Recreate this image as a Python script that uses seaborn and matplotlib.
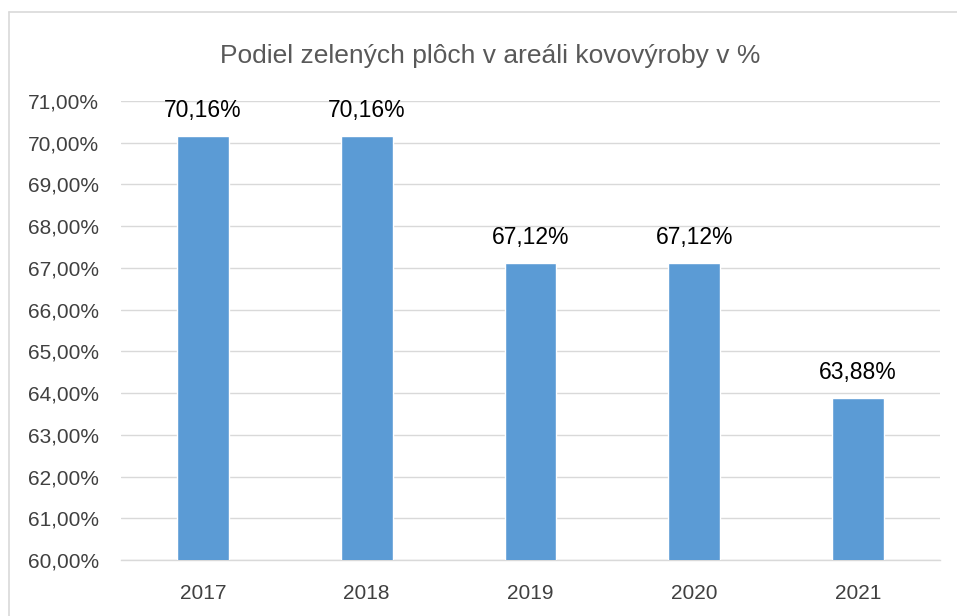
import matplotlib
matplotlib.use("Agg")
import matplotlib.pyplot as plt
import seaborn as sns
import pandas as pd
from matplotlib.ticker import FuncFormatter

years = ["2017", "2018", "2019", "2020", "2021"]
values = [70.16, 70.16, 67.12, 67.12, 63.88]
title = "Podiel zelených plôch v areáli kovovýroby v %"

sns.set_theme(style="white")
plt.rcParams['font.family'] = ['Liberation Sans', 'DejaVu Sans']

df = pd.DataFrame({"year": years, "value": values})

fig = plt.figure(figsize=(9.57, 6.16), dpi=100)
ax = fig.add_axes([121/957, 1 - 560/616, (940-121)/957, (560-101)/616])

sns.barplot(data=df, x="year", y="value", color="#5B9BD5", saturation=1,
            width=0.317, ax=ax, zorder=3)

ax.set_ylim(60, 71)
ax.set_yticks(range(60, 72))
ax.yaxis.set_major_formatter(FuncFormatter(lambda v, p: f"{v:.2f}%".replace(".", ",")))
ax.grid(axis="y", color="#D9D9D9", linewidth=1.0, zorder=0)
ax.set_axisbelow(True)
for s in ["top", "right", "left"]:
    ax.spines[s].set_visible(False)
ax.spines["bottom"].set_color("#D9D9D9")
ax.spines["bottom"].set_linewidth(1.0)
ax.tick_params(axis="y", length=0, pad=16, labelsize=15, labelcolor="#404040")
ax.tick_params(axis="x", length=0, pad=17, labelsize=15, labelcolor="#404040")
ax.set_xlabel("")
ax.set_ylabel("")

for i, v in enumerate(values):
    ax.annotate(f"{v:.2f}%".replace(".", ","), (i, v), xytext=(0, 10),
                textcoords="offset points", ha="center", va="bottom",
                fontsize=16.5, color="#000000")

fig.text(490/957, 1 - 56/616, title, ha="center", va="center",
         fontsize=19, color="#595959")

# chart border (left and top visible)
fig.add_artist(plt.Line2D([9/957, 9/957], [0, 1 - 12/616], color="#D9D9D9", lw=1.2,
                          transform=fig.transFigure))
fig.add_artist(plt.Line2D([9/957, 1], [1 - 12/616, 1 - 12/616], color="#D9D9D9", lw=1.2,
                          transform=fig.transFigure))

fig.savefig("out.png", dpi=100)
